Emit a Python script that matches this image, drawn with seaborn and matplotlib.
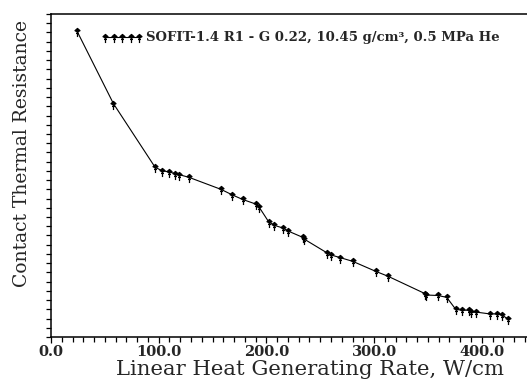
import numpy as np
import pandas as pd
import seaborn as sns
import matplotlib.pyplot as plt
from matplotlib.path import Path

# data (arbitrary resistance units)
lhgr = [23.9, 57.9, 96.6, 103.3, 109.6, 115.1, 118.8, 128.1, 157.8, 168.3,
        178.0, 190.3, 193.1, 202.0, 207.3, 215.7, 219.8, 233.7, 235.2, 256.5,
        259.7, 268.6, 280.1, 301.8, 312.6, 347.3, 348.2, 359.0, 367.4, 375.8,
        381.9, 388.4, 389.7, 394.6, 407.6, 413.8, 418.5, 424.3]
resistance = [33.2, 25.3, 18.4, 18.0, 17.9, 17.7, 17.6, 17.3, 16.0, 15.4,
              14.9, 14.4, 14.1, 12.5, 12.1, 11.8, 11.5, 10.8, 10.6, 9.1,
              8.9, 8.6, 8.2, 7.1, 6.6, 4.7, 4.55, 4.5, 4.3, 3.0,
              2.9, 2.9, 2.7, 2.7, 2.5, 2.5, 2.4, 1.95]
xticks = [0, 100, 200, 300, 400]
xticklabels = ['0.0', '100.0', '200.0', '300.0', '400.0']
series_label = 'SOFIT-1.4 R1 - G 0.22, 10.45 g/cm\u00b3, 0.5 MPa He'

df = pd.DataFrame({'LHGR': lhgr, 'R': resistance})

# tack-like marker: filled head with a stem
verts = [(-0.45, 0.15), (0, 0.55), (0.45, 0.15), (0, -0.1), (-0.45, 0.15),
         (0, 0.1), (0, -1.0), (-0.25, -0.35), (0.25, -0.35)]
codes = [Path.MOVETO, Path.LINETO, Path.LINETO, Path.LINETO, Path.CLOSEPOLY,
         Path.MOVETO, Path.LINETO, Path.MOVETO, Path.LINETO]
tack = Path(verts, codes)

sns.set_style('ticks')
fig = plt.figure(figsize=(5.27, 3.82), dpi=100)
ax = fig.add_axes([0.0968, 0.1178, 0.9032, 0.8456])

sns.lineplot(data=df, x='LHGR', y='R', ax=ax, color='black', lw=0.8,
             marker=tack, markersize=8, markerfacecolor='black',
             markeredgecolor='black', markeredgewidth=0.9,
             label=series_label, sort=False)

ax.set_xlim(0, 442)
ax.set_ylim(0, 35)
ax.set_xticks(xticks)
ax.set_xticklabels(xticklabels, family='DejaVu Serif', fontweight='bold', fontsize=10.5)
ax.set_xticks(np.arange(0, 441, 10), minor=True)
ax.set_yticks(np.arange(0, 36, 1))
ax.set_yticklabels([])
ax.tick_params(axis='both', which='both', direction='out', color='black',
               width=0.9, length=3.5, pad=2)
ax.tick_params(axis='x', which='major', length=4.5, pad=1.5)

for s in ['left', 'bottom', 'top']:
    ax.spines[s].set_linewidth(1.1)
    ax.spines[s].set_color('black')
ax.spines['right'].set_visible(False)

ax.set_xlabel('Linear Heat Generating Rate, W/cm', family='DejaVu Serif',
              fontsize=15.3, labelpad=0)
ax.xaxis.set_label_coords(0.544, -0.07)
ax.set_ylabel('Contact Thermal Resistance', family='DejaVu Serif',
              fontsize=13.5)
ax.yaxis.set_label_coords(-0.043, 0.567)

handles, labels = ax.get_legend_handles_labels()
ax.legend(handles, labels, loc='center left', bbox_to_anchor=(0.105, 0.926),
          frameon=False, numpoints=5, handlelength=3.2, handletextpad=0.2,
          borderpad=0, borderaxespad=0,
          prop={'family': 'DejaVu Serif', 'weight': 'bold', 'size': 9.5})

fig.savefig('out.png', dpi=100)
